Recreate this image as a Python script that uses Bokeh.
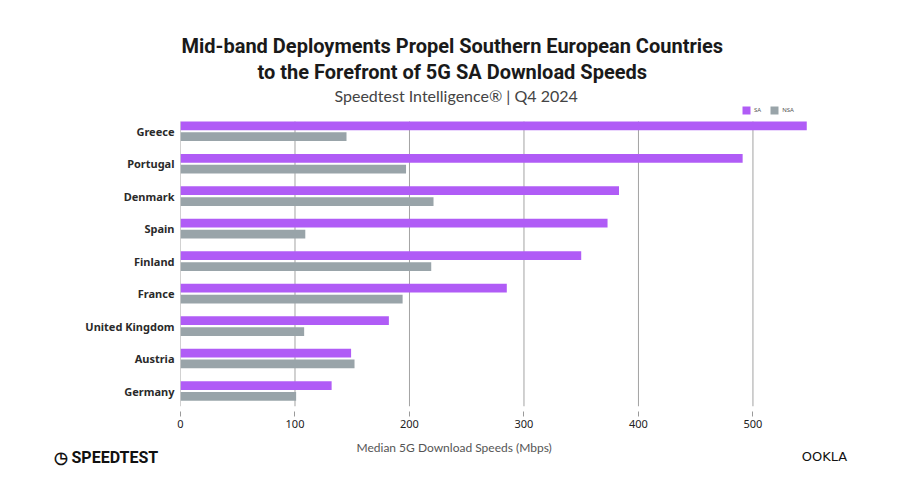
from bokeh.plotting import figure
from bokeh.models import (ColumnDataSource, Range1d, Legend, LegendItem, FixedTicker,
                          Title, LinearAxis)
from bokeh.embed import file_html
from bokeh.resources import INLINE

countries = ["Greece", "Portugal", "Denmark", "Spain", "Finland", "France",
             "United Kingdom", "Austria", "Germany"]
sa_speed = [547, 491, 383, 373, 350, 285, 182, 149, 132]
nsa_speed = [145, 197, 221, 109, 219, 194, 108, 152, 101]
x_ticks = [0, 100, 200, 300, 400, 500]

title_1 = "Mid-band Deployments Propel Southern European Countries"
title_2 = "to the Forefront of 5G SA Download Speeds"
subtitle = "Speedtest Intelligence\u00ae | Q4 2024"
x_title = "Median 5G Download Speeds (Mbps)"
brand_left = "\u25f7 SPEEDTEST"
brand_right = "OOKLA"

SA_COLOR = "#B05CF6"
NSA_COLOR = "#99A4A9"

W, H = 903, 487
FL, FT, FB, FR = 180, 104, 406, 903   # frame edges on the page
PX = 1.1449                           # pixels per Mbps
n = len(countries)
rows = [n - i for i in range(n)]       # Greece on top
OFF, BAR_H = 0.168, 0.27
ROW_PX = 32.47
Y0 = 1 - (FB - 390.5) / ROW_PX
Y1 = n + (130.75 - FT) / ROW_PX

src = ColumnDataSource(dict(country=countries, row=rows, sa=sa_speed, nsa=nsa_speed,
                            y_sa=[r + OFF for r in rows], y_nsa=[r - OFF for r in rows]))

p = figure(width=W, height=H, output_backend="svg", toolbar_location=None,
           y_range=Range1d(Y0, Y1),
           x_range=Range1d(0, (FR - FL) / PX),
           min_border_left=FL, min_border_right=W - FR, min_border_top=FT,
           min_border_bottom=H - FB)
p.outline_line_color = None
p.background_fill_color = "white"
p.border_fill_color = "white"

# vertical grid lines (drawn as data segments so they stop at the top bar)
p.segment(x0=x_ticks, x1=x_ticks, y0=[Y0] * len(x_ticks),
          y1=[n + (130.75 - 121) / ROW_PX] * len(x_ticks),
          line_color="#a3a3a3", line_width=1)

r_sa = p.hbar(y="y_sa", right="sa", left=0, height=BAR_H,
              source=src, fill_color=SA_COLOR, line_color=None)
r_nsa = p.hbar(y="y_nsa", right="nsa", left=0, height=BAR_H,
               source=src, fill_color=NSA_COLOR, line_color=None)

# main x axis
p.xaxis.ticker = x_ticks
p.xaxis.axis_line_color = None
p.xaxis.major_tick_line_color = "#9a9a9a"
p.xaxis.major_tick_in = -5
p.xaxis.major_tick_out = 10
p.xaxis.minor_tick_line_color = None
p.xaxis.major_label_text_font = "Noto Sans"
p.xaxis.major_label_text_font_size = "11px"
p.xaxis.major_label_text_color = "#222222"
p.xaxis.major_label_standoff = 3
p.xaxis.axis_label = " "
p.xaxis.axis_label_text_font_size = "1px"
p.xaxis.axis_label_standoff = 3

p.yaxis.ticker = FixedTicker(ticks=rows)
p.yaxis.major_label_overrides = {r: c for r, c in zip(rows, countries)}
p.yaxis.axis_line_color = None
p.yaxis.major_tick_line_color = None
p.yaxis.major_tick_in = 0
p.yaxis.major_tick_out = 0
p.yaxis.minor_tick_line_color = None
p.yaxis.major_label_text_font = "Noto Sans"
p.yaxis.major_label_text_font_style = "bold"
p.yaxis.major_label_text_font_size = "11px"
p.yaxis.major_label_text_color = "#2a2a2a"
p.yaxis.major_label_standoff = 6

p.xgrid.grid_line_color = None
p.ygrid.grid_line_color = None

# legend at the top right of the frame
legend = Legend(items=[LegendItem(label="SA", renderers=[r_sa]),
                       LegendItem(label="NSA", renderers=[r_nsa])],
                location=(561, FB - 115), orientation="horizontal",
                glyph_width=10, glyph_height=10, label_height=10, label_width=0,
                label_text_font="Noto Sans", label_text_font_size="6px",
                label_text_color="#555555", label_standoff=3, spacing=8,
                padding=0, margin=0, border_line_color=None,
                background_fill_alpha=0)
p.add_layout(legend, "center")

# titles above (first added sits closest to the frame); left-aligned with offsets
p.add_layout(Title(text=subtitle, align="left", offset=334 - FL, text_font="Lato",
                   text_font_style="normal", text_font_size="16px", text_color="#444444",
                   standoff=0), "above")
p.add_layout(Title(text=title_2, align="left", offset=77,
                   text_font="Roboto", text_font_style="bold",
                   text_font_size="20px", text_color="#1a1a1a", standoff=0), "above")
p.add_layout(Title(text=title_1, align="left", offset=1,
                   text_font="Roboto", text_font_style="bold",
                   text_font_size="20px", text_color="#1a1a1a", standoff=0), "above")

# x axis title and footer below
p.add_layout(Title(text=x_title, align="left", offset=356 - FL, text_font="Lato",
                   text_font_style="normal", text_font_size="12px", text_color="#555555",
                   standoff=0), "below")
p.add_layout(Title(text=brand_left, align="left", offset=53 - FL, text_font="Roboto",
                   text_font_style="bold", text_font_size="16px", text_color="#111111",
                   standoff=-18), "below")
brand_axis = LinearAxis(ticker=FixedTicker(ticks=[(824 - FL) / PX]),
                        major_label_overrides={(824 - FL) / PX: brand_right},
                        axis_line_color=None, major_tick_line_color=None,
                        minor_tick_line_color=None, major_tick_in=0, major_tick_out=0,
                        major_label_standoff=-9, major_label_text_font="DejaVu Sans",
                        major_label_text_font_size="13px", major_label_text_color="#111111")
p.add_layout(brand_axis, "below")

html = file_html(p, INLINE)
open("out.html", "w").write(html)
